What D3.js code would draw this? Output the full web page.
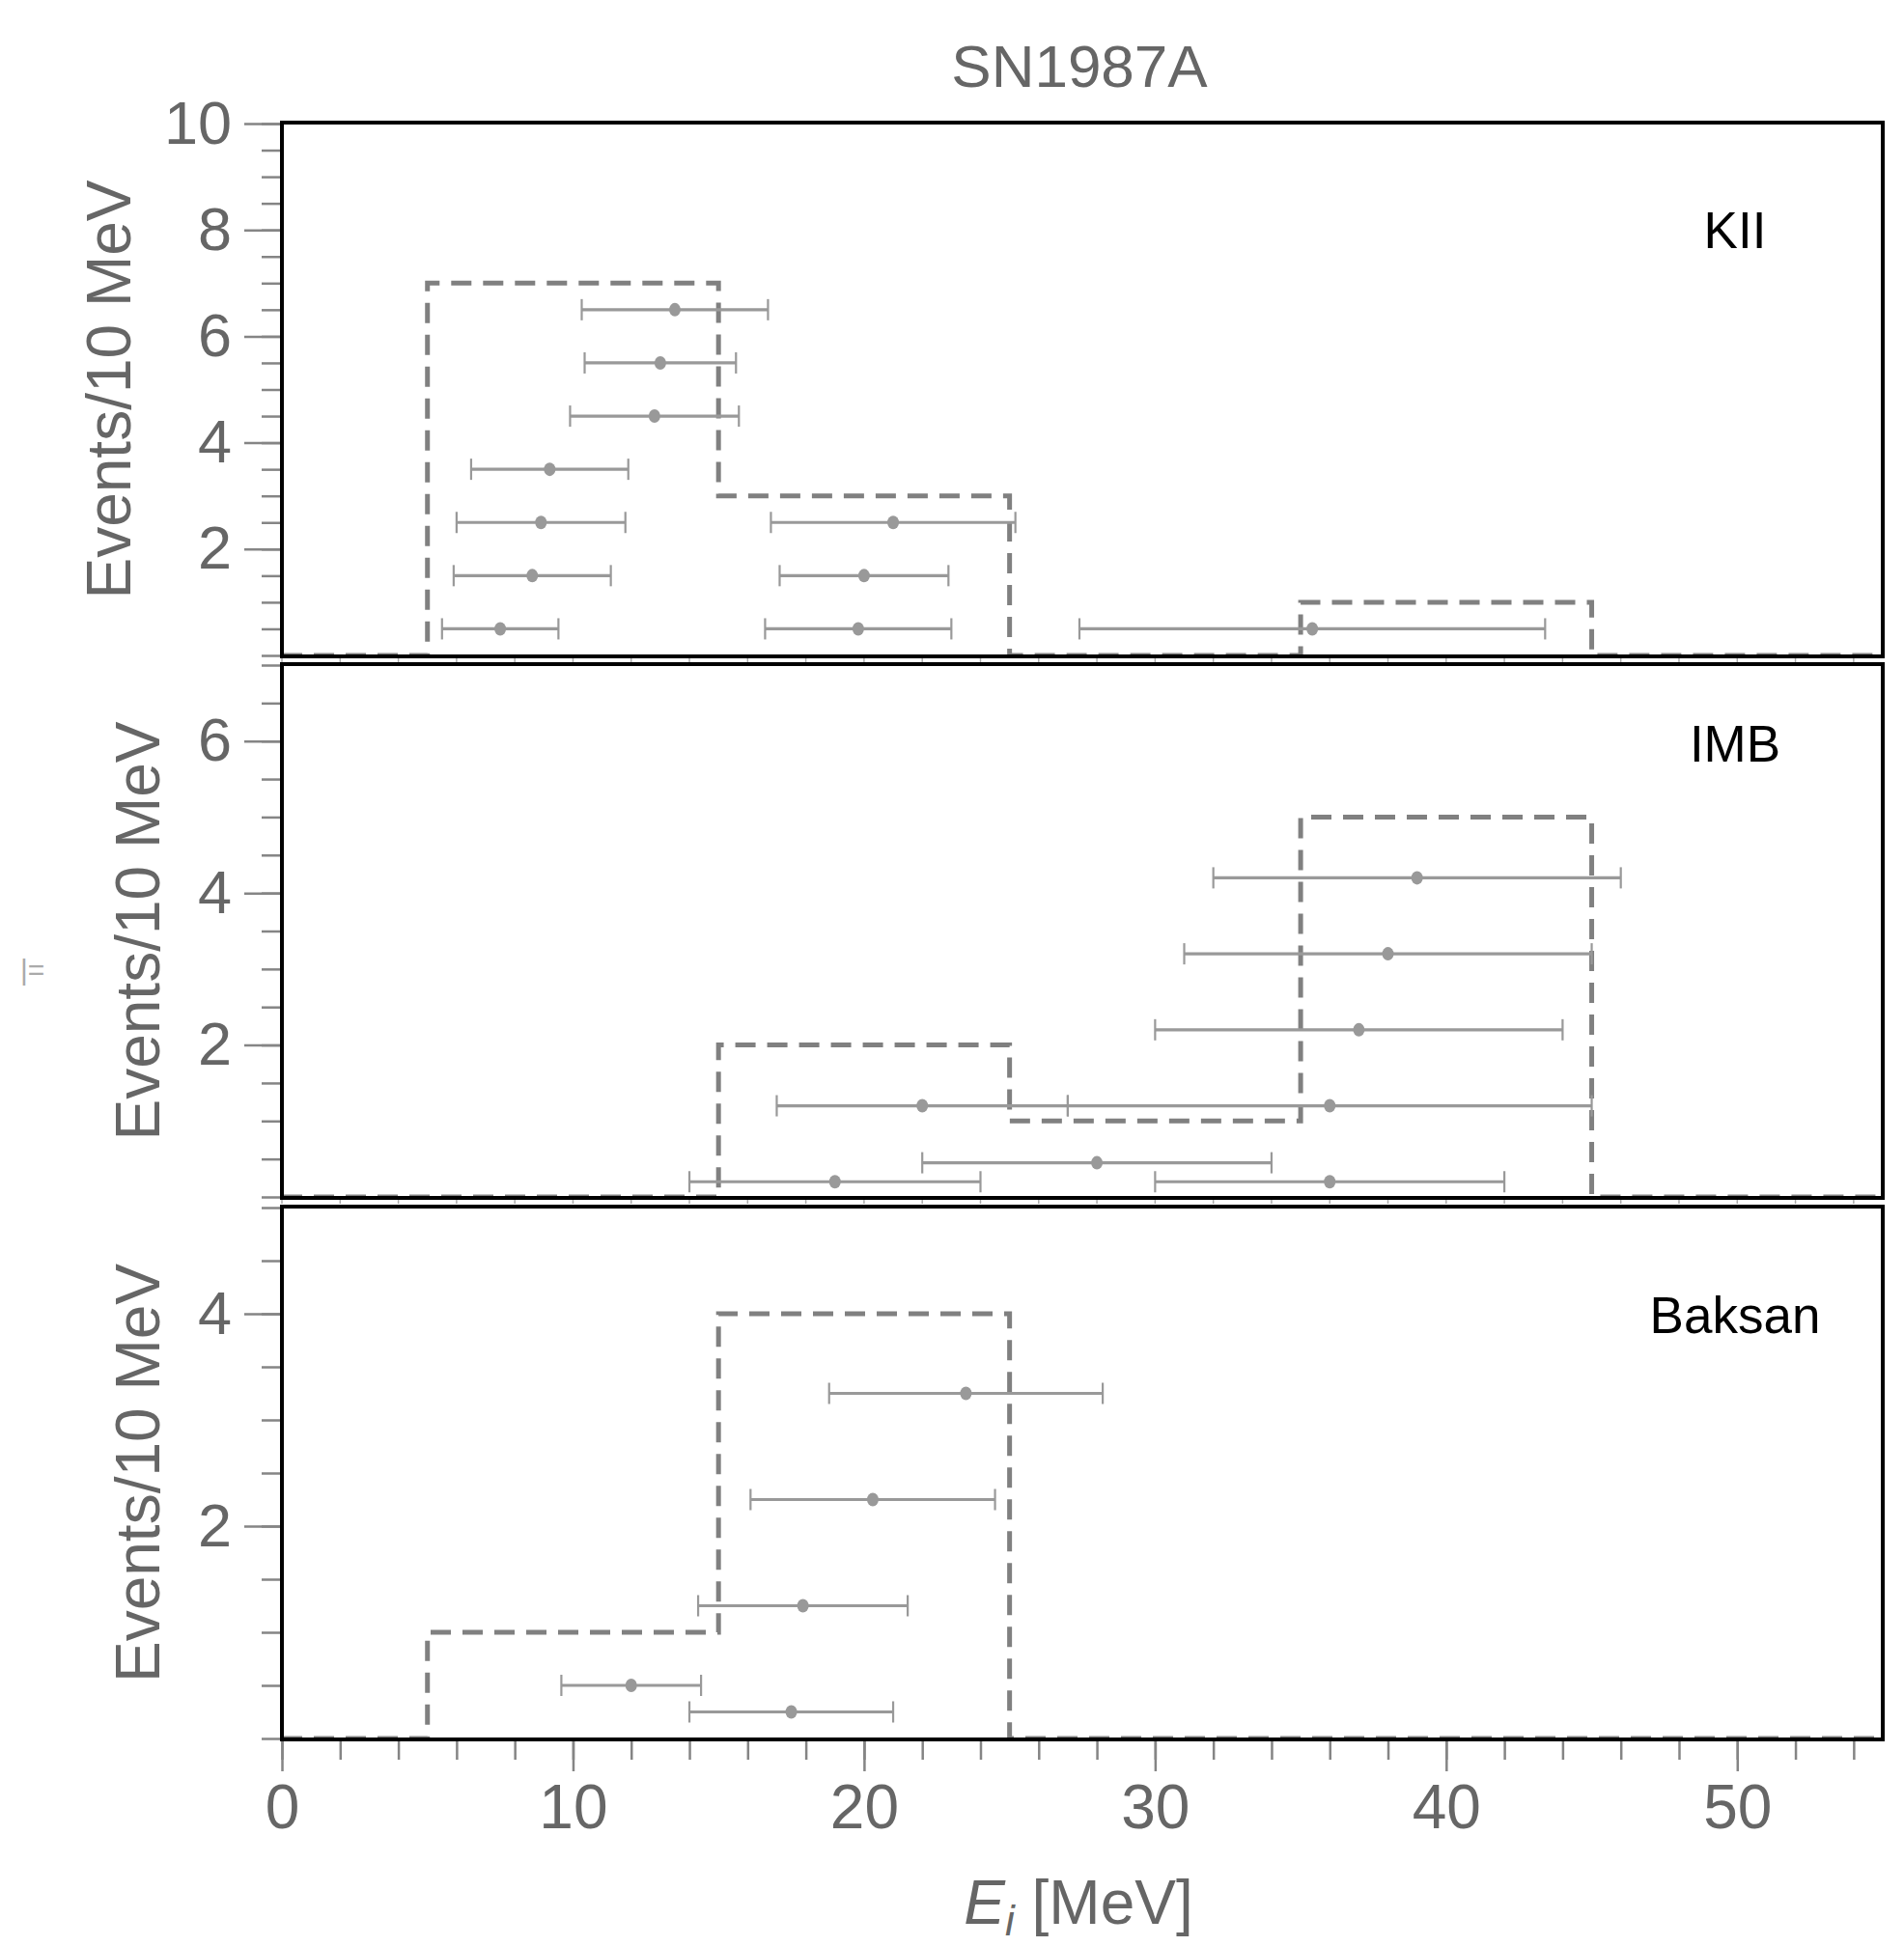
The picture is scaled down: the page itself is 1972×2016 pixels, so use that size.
<!DOCTYPE html>
<html>
<head>
<meta charset="utf-8">
<script src="https://cdn.jsdelivr.net/npm/d3@7"></script>
<style>
  html, body { margin: 0; padding: 0; background: #fff; }
  svg { display: block; }
  text { font-family: "Liberation Sans", Arial, Helvetica, sans-serif; }
</style>
</head>
<body>
<script>
// ---------------- data ----------------
const chartTitle = "SN1987A";
const xLabelMain = "E";
const xLabelSub = "i";
const xLabelUnit = " [MeV]";
const yLabel = "Events/10 MeV";

const xTickValues = [0, 10, 20, 30, 40, 50];
const binEdges = [0, 5, 15, 25, 35, 45, 55];

const detectors = ["KII", "IMB", "Baksan"];
const yMaxes = [10, 7, 5];
const yMajorTicks = [[2, 4, 6, 8, 10], [2, 4, 6], [2, 4]];

// histogram counts per 10 MeV bin (dashed)
const kiiHist = [0, 7, 3, 0, 1, 0];
const imbHist = [0, 0, 2, 1, 5, 0];
const bakHist = [0, 1, 4, 0, 0, 0];

// individual events: energy, energy error, vertical stacking position
const kiiE   = [13.5, 13.0, 12.8, 9.2, 8.9, 8.6, 7.5, 21.0, 20.0, 19.8, 35.4];
const kiiErr = [3.2, 2.6, 2.9, 2.7, 2.9, 2.7, 2.0, 4.2, 2.9, 3.2, 8.0];
const kiiY   = [6.5, 5.5, 4.5, 3.5, 2.5, 1.5, 0.5, 2.5, 1.5, 0.5, 0.5];

const imbE   = [39, 38, 37, 22, 36, 28, 19, 36];
const imbErr = [7, 7, 7, 5, 9, 6, 5, 6];
const imbY   = [4.2, 3.2, 2.2, 1.2, 1.2, 0.45, 0.2, 0.2];

const bakE   = [23.5, 20.3, 17.9, 12.0, 17.5];
const bakErr = [4.7, 4.2, 3.6, 2.4, 3.5];
const bakY   = [3.25, 2.25, 1.25, 0.5, 0.25];

// ---------------- layout ----------------
const W = 1972, H = 2016;
const left = 292, right = 1950;
const panelTops = [127, 688, 1250];
const panelBottoms = [680, 1241, 1802];
const yTitleX = [135, 165, 165];

const svg = d3.select("body").append("svg").attr("width", W).attr("height", H);

const x = d3.scaleLinear().domain([0, 55]).range([left, right]);

const hists = [kiiHist, imbHist, bakHist];
const events = [
  kiiE.map((e, i) => ({e, err: kiiErr[i], y: kiiY[i]})),
  imbE.map((e, i) => ({e, err: imbErr[i], y: imbY[i]})),
  bakE.map((e, i) => ({e, err: bakErr[i], y: bakY[i]}))
];

const tickColor = "#858585";
const labelColor = "#666666";
const histColor = "#808080";
const evColor = "#999999";

detectors.forEach((name, p) => {
  const top = panelTops[p], bottom = panelBottoms[p];
  const y = d3.scaleLinear().domain([0, yMaxes[p]]).range([bottom - 1, top + 1]);
  const g = svg.append("g");

  // histogram (dashed step)
  const hist = hists[p];
  const pts = binEdges.map((b, i) => [b, i < hist.length ? hist[i] : hist[hist.length - 1]]);
  const line = d3.line().x(d => x(d[0])).y(d => y(d[1])).curve(d3.curveStepAfter);
  g.append("path")
    .attr("d", line(pts))
    .attr("fill", "none")
    .attr("stroke", histColor)
    .attr("stroke-width", 5)
    .attr("stroke-dasharray", "21,12");

  // event error bars
  const ev = g.selectAll("g.ev").data(events[p]).enter().append("g").attr("class", "ev");
  ev.append("line")
    .attr("x1", d => x(d.e - d.err)).attr("x2", d => x(d.e + d.err))
    .attr("y1", d => y(d.y)).attr("y2", d => y(d.y))
    .attr("stroke", evColor).attr("stroke-width", 3.2);
  ev.append("line")
    .attr("x1", d => x(d.e - d.err)).attr("x2", d => x(d.e - d.err))
    .attr("y1", d => y(d.y) - 11).attr("y2", d => y(d.y) + 11)
    .attr("stroke", evColor).attr("stroke-width", 2.2);
  ev.append("line")
    .attr("x1", d => x(d.e + d.err)).attr("x2", d => x(d.e + d.err))
    .attr("y1", d => y(d.y) - 11).attr("y2", d => y(d.y) + 11)
    .attr("stroke", evColor).attr("stroke-width", 2.2);
  ev.append("ellipse")
    .attr("cx", d => x(d.e)).attr("cy", d => y(d.y))
    .attr("rx", 6).attr("ry", 7)
    .attr("fill", evColor);

  // y axis: minor ticks every 0.5, major labelled ticks
  const minor = d3.range(0, yMaxes[p] + 0.001, 0.5);
  const yMinorAxis = d3.axisLeft(y).tickValues(minor).tickSize(21).tickFormat("");
  const ga = g.append("g").attr("transform", `translate(${left},0)`).call(yMinorAxis);
  ga.select(".domain").remove();
  ga.selectAll("line").attr("stroke", tickColor).attr("stroke-width", 2.5);

  const yMajorAxis = d3.axisLeft(y).tickValues(yMajorTicks[p]).tickSize(39).tickPadding(13)
    .tickFormat(d3.format("d"));
  const gm = g.append("g").attr("transform", `translate(${left},0)`).call(yMajorAxis);
  gm.select(".domain").remove();
  gm.selectAll("line").attr("stroke", tickColor).attr("stroke-width", 2.5);
  gm.selectAll("text")
    .attr("fill", labelColor)
    .style("font-size", "63px")
    .style("font-family", "'Liberation Sans', Arial, sans-serif");

  // small inner ticks at panel bottoms (upper panels)
  if (p < 2) {
    const xs = d3.range(0, 55, 2);
    g.selectAll("line.inner").data(xs).enter().append("line")
      .attr("x1", d => x(d)).attr("x2", d => x(d))
      .attr("y1", bottom).attr("y2", bottom + 6)
      .attr("stroke", "#aaaaaa").attr("stroke-width", 1.5);
  }

  // frame
  g.append("rect")
    .attr("x", left).attr("y", top)
    .attr("width", right - left).attr("height", bottom - top)
    .attr("fill", "none").attr("stroke", "#000").attr("stroke-width", 4);

  // detector label
  g.append("text")
    .attr("x", 1797).attr("y", [257, 789, 1381][p])
    .attr("text-anchor", "middle")
    .attr("fill", "#000")
    .style("font-size", "53px")
    .text(name);

  // y title
  g.append("text")
    .attr("transform", `translate(${yTitleX[p]},${(top + bottom) / 2}) rotate(-90)`)
    .attr("text-anchor", "middle")
    .attr("fill", labelColor)
    .style("font-size", "64px")
    .text(yLabel);
});

// bottom x axis
const lastBottom = panelBottoms[2];
const xMinor = d3.axisBottom(x).tickValues(d3.range(0, 55, 2)).tickSize(21).tickFormat("");
const gxm = svg.append("g").attr("transform", `translate(0,${lastBottom})`).call(xMinor);
gxm.select(".domain").remove();
gxm.selectAll("line").attr("stroke", tickColor).attr("stroke-width", 2.5);

const xMajor = d3.axisBottom(x).tickValues(xTickValues).tickSize(33).tickPadding(14).tickFormat(d3.format("d"));
const gx = svg.append("g").attr("transform", `translate(0,${lastBottom})`).call(xMajor);
gx.select(".domain").remove();
gx.selectAll("line").attr("stroke", tickColor).attr("stroke-width", 2.5);
gx.selectAll("text")
  .attr("fill", labelColor)
  .style("font-size", "64px")
  .style("font-family", "'Liberation Sans', Arial, sans-serif");

// redraw bottom frame line over ticks
svg.append("line")
  .attr("x1", left - 2).attr("x2", right + 2)
  .attr("y1", lastBottom).attr("y2", lastBottom)
  .attr("stroke", "#000").attr("stroke-width", 4);

// title
svg.append("text")
  .attr("x", 1118).attr("y", 90)
  .attr("text-anchor", "middle")
  .attr("fill", labelColor)
  .style("font-size", "62px")
  .text(chartTitle);

// x title
const xt = svg.append("text")
  .attr("x", 1117).attr("y", 1993)
  .attr("text-anchor", "middle")
  .attr("fill", labelColor)
  .style("font-size", "64px");
xt.append("tspan").style("font-style", "italic").text(xLabelMain);
xt.append("tspan").style("font-style", "italic").style("font-size", "44px").attr("dy", 12).text(xLabelSub);
xt.append("tspan").attr("dy", -12).text(xLabelUnit);

// small stray mark on the left margin
svg.append("text")
  .attr("x", 21).attr("y", 1015)
  .attr("fill", "#aaaaaa")
  .style("font-size", "30px")
  .text("|=");
</script>
</body>
</html>
